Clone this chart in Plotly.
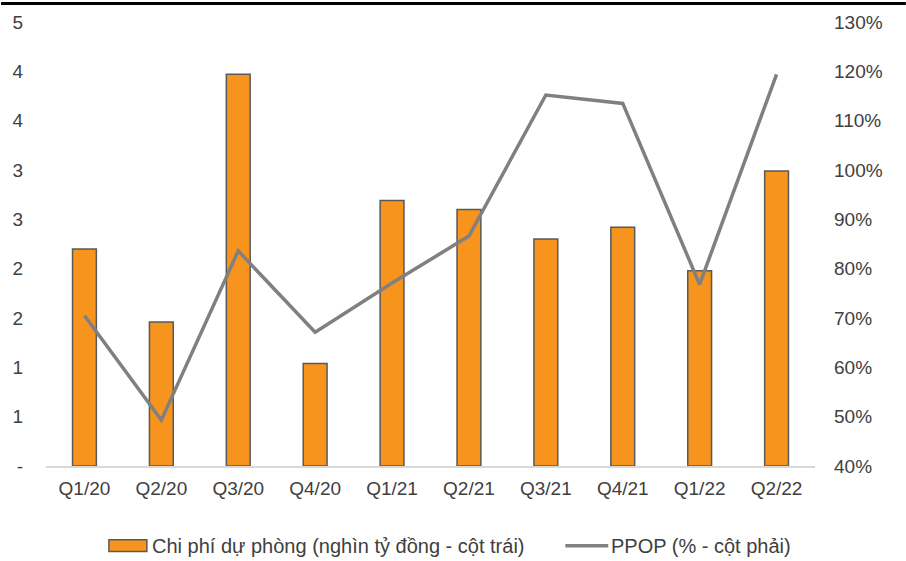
import plotly.graph_objects as go

# Quarterly data
quarters = ["Q1/20", "Q2/20", "Q3/20", "Q4/20", "Q1/21", "Q2/21", "Q3/21", "Q4/21", "Q1/22", "Q2/22"]
provision = [2.20, 1.46, 3.97, 1.04, 2.69, 2.60, 2.30, 2.42, 1.98, 2.99]   # nghìn tỷ đồng
ppop = [70.5, 49.3, 83.6, 67.1, 77.1, 86.6, 115.2, 113.5, 76.8, 119.4]     # %

left_tickvals = [0, 0.5, 1, 1.5, 2, 2.5, 3, 3.5, 4, 4.5]
left_ticktext = ["-", "1", "1", "2", "2", "3", "3", "4", "4", "5"]
right_tickvals = [40, 50, 60, 70, 80, 90, 100, 110, 120, 130]
right_ticktext = [f"{v}%" for v in right_tickvals]

bar_name = "Chi phí dự phòng (nghìn tỷ đồng - cột trái)"
line_name = "PPOP (% - cột phải)"

W, H = 906, 561
ML, MR, MT, MB = 45, 91, 20, 95
PW, PH = W - ML - MR, H - MT - MB

FONT = "Liberation Sans, Arial, sans-serif"
TXT = "#404040"
ORANGE = "#F7941D"
EDGE = "#595959"
GREY = "#808080"
FS = 19
FS_LEG = 20


def px_x(x):
    return (x - ML) / PW


def px_y(y):
    return (H - MB - y) / PH


fig = go.Figure()
fig.add_trace(go.Bar(
    x=quarters, y=provision, name=bar_name, width=0.31,
    marker=dict(color=ORANGE, line=dict(color=EDGE, width=1.5)),
    showlegend=False,
))
fig.add_trace(go.Scatter(
    x=quarters, y=ppop, name=line_name, yaxis="y2", mode="lines",
    line=dict(color=GREY, width=3.5), showlegend=False,
))

shapes = [
    # top border strip
    dict(type="rect", xref="paper", yref="paper", x0=px_x(0), x1=px_x(W),
         y0=px_y(3), y1=px_y(0), fillcolor="black", line=dict(width=0), layer="above"),
    # legend swatches
    dict(type="rect", xref="paper", yref="paper", x0=px_x(108), x1=px_x(146),
         y0=px_y(552), y1=px_y(540), fillcolor=ORANGE, line=dict(color=EDGE, width=1.5)),
    dict(type="line", xref="paper", yref="paper", x0=px_x(565), x1=px_x(608),
         y0=px_y(546), y1=px_y(546), line=dict(color=GREY, width=3.5)),
]
annotations = [
    dict(text=bar_name, xref="paper", yref="paper", x=px_x(149), y=px_y(546),
         xanchor="left", yanchor="middle", showarrow=False,
         font=dict(family=FONT, size=FS_LEG, color=TXT)),
    dict(text=line_name, xref="paper", yref="paper", x=px_x(609), y=px_y(546),
         xanchor="left", yanchor="middle", showarrow=False,
         font=dict(family=FONT, size=FS_LEG, color=TXT)),
]

fig.update_layout(
    width=W, height=H,
    margin=dict(l=ML, r=MR, t=MT, b=MB, pad=0),
    paper_bgcolor="white", plot_bgcolor="white",
    font=dict(family=FONT, size=FS, color=TXT),
    showlegend=False,
    xaxis=dict(
        range=[-0.5, 9.5], showgrid=False, zeroline=False,
        showline=True, linecolor="#D9D9D9", linewidth=1.5,
        ticks="", ticklabelstandoff=4, tickfont=dict(size=FS, color=TXT),
    ),
    yaxis=dict(
        range=[0, 4.5], tickvals=left_tickvals, ticktext=left_ticktext,
        showgrid=False, zeroline=False, showline=False, ticks="",
        ticklabelstandoff=22, tickfont=dict(size=FS, color=TXT),
    ),
    yaxis2=dict(
        range=[40, 130], tickvals=right_tickvals, ticktext=right_ticktext,
        overlaying="y", side="right",
        showgrid=False, zeroline=False, showline=False, ticks="",
        ticklabelstandoff=18, tickfont=dict(size=FS, color=TXT),
    ),
    shapes=shapes,
    annotations=annotations,
)

fig.write_html("out.html")
